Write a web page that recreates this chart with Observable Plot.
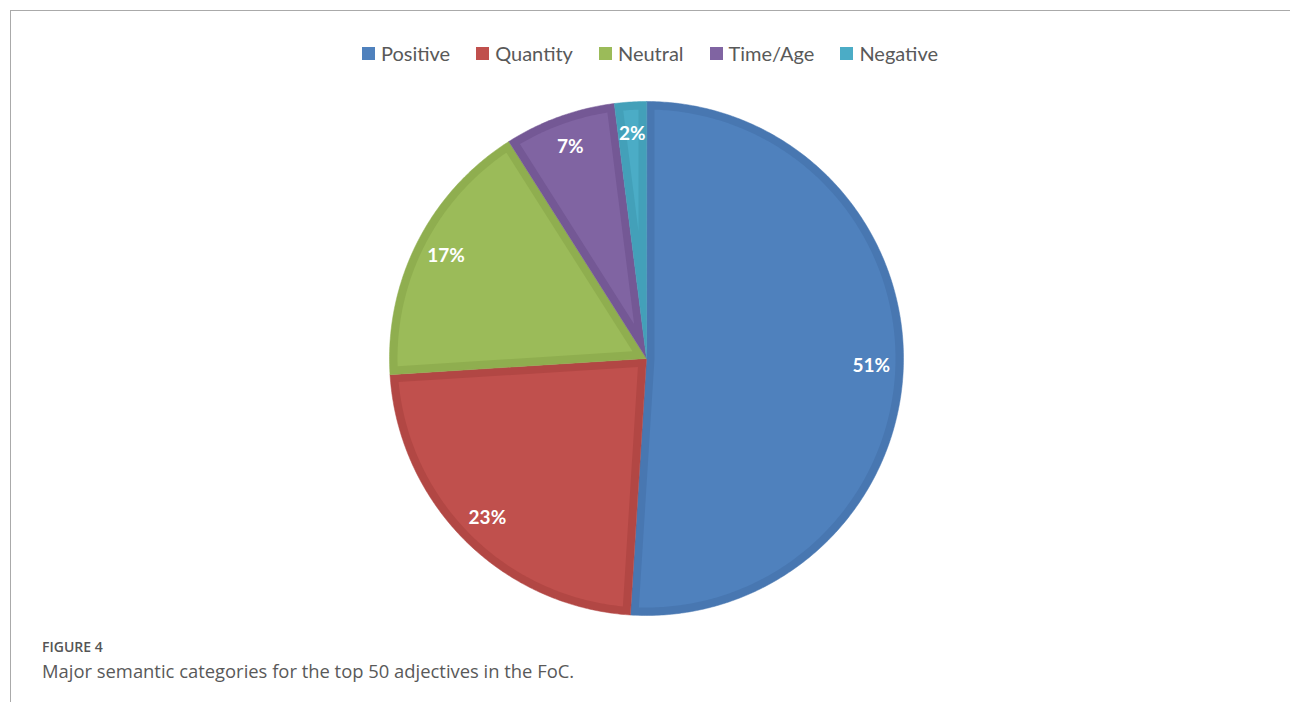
<!DOCTYPE html>
<html>
<head>
<meta charset="utf-8">
<script src="https://cdn.jsdelivr.net/npm/d3@7"></script>
<script src="https://cdn.jsdelivr.net/npm/@observablehq/plot@0.6"></script>
<style>
  html, body { margin: 0; padding: 0; background: #fff; }
  body { width: 1290px; height: 702px; position: relative; overflow: hidden; font-family: Lato, "Open Sans", sans-serif; }
  #frame { position: absolute; left: 10px; top: 10px; right: 0; bottom: 0; border-top: 1px solid #aaa; border-left: 1px solid #aaa; }
  #legend { position: absolute; left: 0; width: 1300px; top: 42px; display: flex; justify-content: center; gap: 26px; font-size: 20px; color: #595959; line-height: 22px; }
  #legend .item { display: flex; align-items: center; }
  #legend .sw { width: 13px; height: 13px; margin-right: 6px; }
  #chart { position: absolute; left: 0; top: 80px; }
  #fig { position: absolute; left: 42px; top: 637px; font-family: "Open Sans", sans-serif; font-size: 14px; font-weight: 600; color: #555; }
  #cap { position: absolute; left: 42px; top: 658px; font-family: "Open Sans", sans-serif; font-size: 18.4px; color: #595959; }
</style>
</head>
<body>
<div id="frame"></div>
<div id="legend"></div>
<div id="chart"></div>
<div id="fig">FIGURE 4</div>
<div id="cap">Major semantic categories for the top 50 adjectives in the FoC.</div>
<script>
const categories = ["Positive", "Quantity", "Neutral", "Time/Age", "Negative"];
const shares = [51, 23, 17, 7, 2];
const labels = ["51%", "23%", "17%", "7%", "2%"];
const fillColors = ["#4f81bd", "#c0504d", "#9bbb59", "#8064a2", "#4bacc6"];
const edgeColors = ["#4877b1", "#b24744", "#8fae4f", "#745895", "#43a0b9"];

// Legend
const legend = document.getElementById("legend");
categories.forEach((c, i) => {
  const it = document.createElement("div");
  it.className = "item";
  const sw = document.createElement("div");
  sw.className = "sw";
  sw.style.background = fillColors[i];
  const t = document.createElement("span");
  t.textContent = c;
  it.appendChild(sw); it.appendChild(t);
  legend.appendChild(it);
});

const W = 1290, H = 550;
const cx = 646, cy = 278, R = 257, inset = 8, labelR = 225;
const arcs = d3.pie().sort(null)(shares);
const pt = (a, r) => [cx + r * Math.sin(a), cy - r * Math.cos(a)];

const outer = [], inner = [], texts = [];
arcs.forEach((a, i) => {
  const cat = categories[i];
  const a0 = a.startAngle, a1 = a.endAngle;
  outer.push({cat, x: cx, y: cy, c: edgeColors[i]});
  const n = Math.max(4, Math.ceil((a1 - a0) / 0.01));
  for (let k = 0; k <= n; k++) {
    const [x, y] = pt(a0 + (a1 - a0) * k / n, R);
    outer.push({cat, x, y, c: edgeColors[i]});
  }
  const half = (a1 - a0) / 2, mid = (a0 + a1) / 2;
  const ri = R - inset;
  const apexD = inset / Math.sin(half);
  const [ax, ay] = pt(mid, apexD);
  inner.push({cat, x: ax, y: ay, c: fillColors[i]});
  const d = Math.asin(inset / ri);
  const b0 = a0 + d, b1 = a1 - d;
  for (let k = 0; k <= n; k++) {
    const [x, y] = pt(b0 + (b1 - b0) * k / n, ri);
    inner.push({cat, x, y, c: fillColors[i]});
  }
  const [lx, ly] = pt(mid, labelR);
  texts.push({x: lx, y: ly, t: labels[i]});
});

const chart = Plot.plot({
  width: W, height: H, margin: 0,
  x: {domain: [0, W], axis: null},
  y: {domain: [0, H], range: [0, H], axis: null},
  color: {type: "identity"},
  marks: [
    Plot.line(outer, {x: "x", y: "y", z: "cat", fill: "c", stroke: "c", strokeWidth: 0.5, curve: "linear-closed"}),
    Plot.line(inner, {x: "x", y: "y", z: "cat", fill: "c", stroke: "none", curve: "linear-closed"}),
    Plot.text(texts, {x: "x", y: "y", text: "t", fill: "white", fontSize: 19, fontWeight: "bold", fontFamily: "Lato, sans-serif"})
  ]
});
document.getElementById("chart").appendChild(chart);
</script>
</body>
</html>
